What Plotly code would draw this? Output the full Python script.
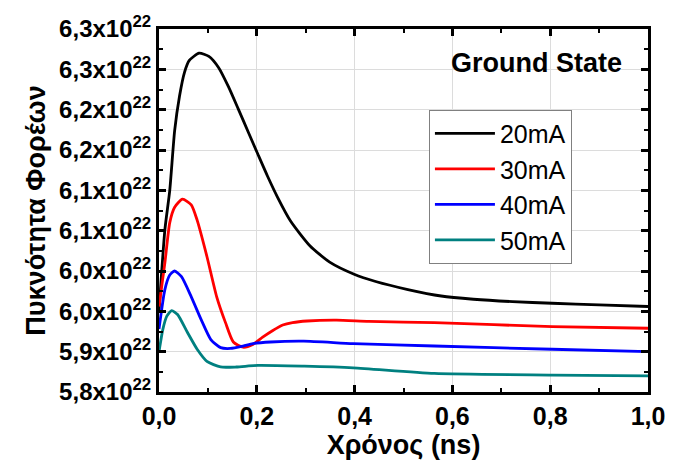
import plotly.graph_objects as go

# ---- data (carrier density in units of 10^22) ----
t_20 = [0.0, 0.012, 0.022, 0.032, 0.042, 0.052, 0.062, 0.082, 0.102, 0.122, 0.142, 0.162,
        0.182, 0.202, 0.222, 0.242, 0.269, 0.309, 0.349, 0.399, 0.443, 0.509, 0.577, 0.643,
        0.723, 0.804, 0.9, 1.0]
n_20 = [5.950, 6.051, 6.100, 6.174, 6.217, 6.246, 6.261, 6.270, 6.266, 6.252, 6.2285, 6.201,
        6.173, 6.145, 6.1175, 6.092, 6.062, 6.031, 6.011, 5.996, 5.987, 5.977, 5.969, 5.965,
        5.962, 5.960, 5.958, 5.956]

t_30 = [0.0, 0.012, 0.022, 0.032, 0.048, 0.066, 0.078, 0.098, 0.118, 0.136, 0.152, 0.172,
        0.192, 0.212, 0.232, 0.253, 0.273, 0.303, 0.363, 0.429, 0.563, 0.804, 1.0]
n_30 = [5.956, 6.010, 6.060, 6.079, 6.089, 6.082, 6.063, 6.018, 5.968, 5.936, 5.912, 5.9055,
        5.909, 5.918, 5.926, 5.933, 5.936, 5.938, 5.939, 5.9375, 5.936, 5.931, 5.929]

t_40 = [0.0, 0.012, 0.022, 0.032, 0.046, 0.066, 0.086, 0.106, 0.126, 0.146, 0.172, 0.192,
        0.228, 0.296, 0.397, 0.563, 0.804, 1.0]
n_40 = [5.928, 5.977, 5.995, 6.000, 5.993, 5.968, 5.940, 5.915, 5.905, 5.904, 5.907, 5.910,
        5.912, 5.913, 5.910, 5.907, 5.903, 5.900]

t_50 = [0.0, 0.008, 0.016, 0.026, 0.038, 0.058, 0.078, 0.098, 0.126, 0.158, 0.202, 0.297,
        0.397, 0.563, 0.804, 1.0]
n_50 = [5.900, 5.928, 5.944, 5.951, 5.946, 5.924, 5.903, 5.888, 5.881, 5.881, 5.883, 5.882,
        5.880, 5.873, 5.871, 5.870]

series_names = ["20mA", "30mA", "40mA", "50mA"]
series_colors = ["#000000", "#ff0000", "#0000ff", "#008080"]

x_tickvals = [0.0, 0.2, 0.4, 0.6, 0.8, 1.0]
x_ticktext = ["0,0", "0,2", "0,4", "0,6", "0,8", "1,0"]
y_tickvals = [5.85, 5.90, 5.95, 6.00, 6.05, 6.10, 6.15, 6.20, 6.25, 6.30]
y_ticklabels = ["5,8", "5,9", "6,0", "6,0", "6,1", "6,1", "6,2", "6,2", "6,3", "6,3"]
y_ticktext = [f"{s}x10<sup>22</sup>" for s in y_ticklabels]

FONT = "Arial, Liberation Sans, sans-serif"

fig = go.Figure()
for tx, ny, name, col in zip([t_20, t_30, t_40, t_50], [n_20, n_30, n_40, n_50],
                             series_names, series_colors):
    fig.add_trace(go.Scatter(x=tx, y=ny, mode="lines", name=name,
                             line=dict(color=col, width=2.8, shape="spline", smoothing=0.6)))

axis_common = dict(
    showline=True, linecolor="black", linewidth=3, mirror="ticks",
    ticks="inside", ticklen=7, tickwidth=3, tickcolor="black",
    showgrid=True, gridcolor="#dcdcdc", gridwidth=1, zeroline=False,
)

fig.update_xaxes(
    range=[0, 1.0], tickmode="array", tickvals=x_tickvals, ticktext=x_ticktext,
    tickfont=dict(family=FONT, size=25, color="black", weight="bold"),
    minor=dict(ticks="inside", ticklen=4, tickwidth=2, tickcolor="black",
               tickmode="linear", tick0=0, dtick=0.1, showgrid=False),
    title=dict(text="Χρόνος (ns)", font=dict(family=FONT, size=27, color="black", weight="bold"),
               standoff=2),
    **axis_common,
)
fig.update_yaxes(
    range=[5.85, 6.30], tickmode="array", tickvals=y_tickvals, ticktext=y_ticktext,
    tickfont=dict(family=FONT, size=24, color="black", weight="bold"),
    minor=dict(ticks="inside", ticklen=4, tickwidth=2, tickcolor="black",
               tickmode="linear", tick0=5.85, dtick=0.025, showgrid=False),
    title=dict(text="Πυκνότητα Φορέων", font=dict(family=FONT, size=27, color="black", weight="bold"),
               standoff=6),
    **axis_common,
)

fig.add_annotation(text="<b>Ground State</b>", xref="paper", yref="paper",
                   x=0.95, y=0.907, xanchor="right", yanchor="middle", showarrow=False,
                   font=dict(family=FONT, size=27, color="black"))

fig.update_layout(
    width=677, height=463,
    margin=dict(l=159, r=19, t=28, b=70),
    paper_bgcolor="white", plot_bgcolor="white",
    legend=dict(x=0.552, y=0.778, xanchor="left", yanchor="top",
                bgcolor="white", bordercolor="#808080", borderwidth=1,
                font=dict(family=FONT, size=25, color="black"),
                itemwidth=60, tracegroupgap=0),
    showlegend=True,
)

fig.write_html("out.html")
